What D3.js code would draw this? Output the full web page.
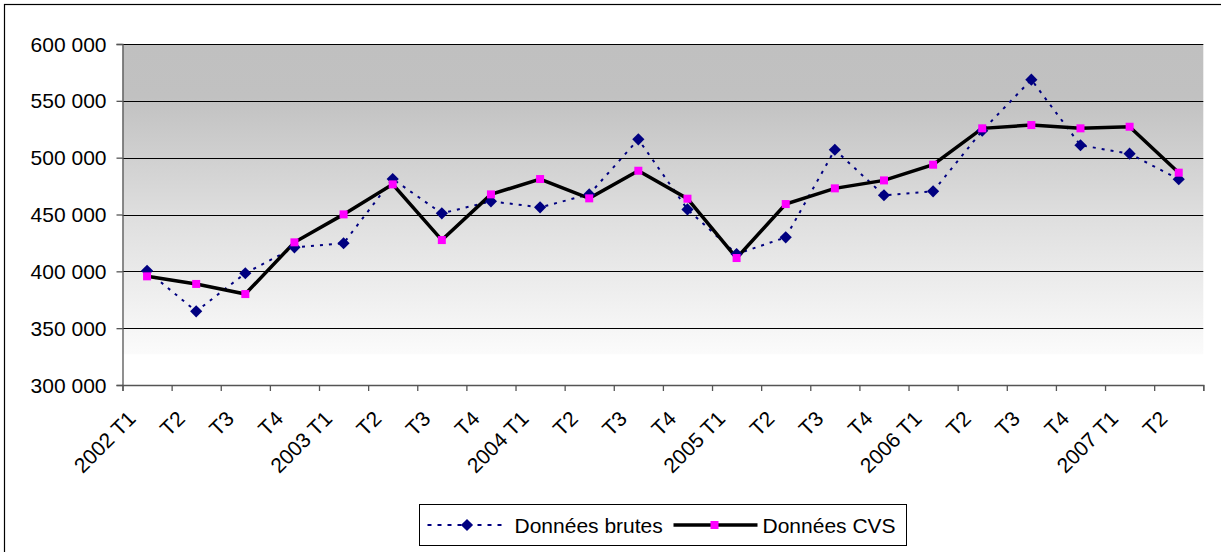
<!DOCTYPE html>
<html>
<head>
<meta charset="utf-8">
<script src="https://cdn.jsdelivr.net/npm/d3@7"></script>
<style>
  body { margin: 0; background: #fff; }
  svg { display: block; font-family: "Liberation Sans", Arial, sans-serif; }
</style>
</head>
<body>
<svg id="chart" width="1221" height="552"></svg>
<script>
// quarters (labels on the x axis)
let categories = ["2002 T1", "T2", "T3", "T4", "2003 T1", "T2", "T3", "T4",
    "2004 T1", "T2", "T3", "T4", "2005 T1", "T2", "T3", "T4",
    "2006 T1", "T2", "T3", "T4", "2007 T1", "T2"];

// raw series
let brutes = [400500, 364800, 398300, 421100, 424700, 481200, 451000, 461600,
    456300, 467700, 516100, 454500, 415200, 429900, 507000, 466900,
    470400, 523700, 568600, 510900, 503500, 481000];

// seasonally adjusted series
let cvs = [395600, 388900, 380000, 425500, 450100, 476500, 427500, 467700,
    481200, 464200, 488500, 463900, 411700, 459200, 473000, 480000,
    493800, 525800, 528700, 525800, 527200, 486800];

let yTicks = [300000, 350000, 400000, 450000, 500000, 550000, 600000];
let seriesNames = ["Données brutes", "Données CVS"];

let svg = d3.select("#chart");
let pad = { left: 122.5, top: 44, right: 1203.3, bottom: 385 };

/* frame round the whole chart */
svg.append("rect")
    .attr("x", 4.5).attr("y", 4.5)
    .attr("width", 1230).attr("height", 560)
    .attr("fill", "#fff").attr("stroke", "#000").attr("stroke-width", 1.2);

let xBand = d3.scaleBand()
    .domain(categories.map((c, i) => i))
    .range([pad.left, pad.right]);
let xEdge = d3.scaleLinear()
    .domain([0, categories.length])
    .range([pad.left, pad.right]);
let y = d3.scaleLinear()
    .domain([300000, 600000])
    .range([pad.bottom, pad.top]);

/* plot background: grey gradient */
let grad = svg.append("defs").append("linearGradient")
    .attr("id", "bg").attr("x1", 0).attr("y1", 0).attr("x2", 0).attr("y2", 1);
grad.append("stop").attr("offset", "0").attr("stop-color", "#c0c0c0");
grad.append("stop").attr("offset", "0.17").attr("stop-color", "#c1c1c1");
grad.append("stop").attr("offset", "0.55").attr("stop-color", "#dedede");
grad.append("stop").attr("offset", "1").attr("stop-color", "#fbfbfb");

svg.append("rect")
    .attr("x", pad.left).attr("y", pad.top)
    .attr("width", pad.right - pad.left)
    .attr("height", y(327000) - pad.top)
    .attr("fill", "url(#bg)");

/* horizontal gridlines */
svg.append("g").selectAll("line")
    .data(yTicks.slice(1))
    .join("line")
    .attr("x1", pad.left).attr("x2", pad.right)
    .attr("y1", d => Math.round(y(d)) + 0.5).attr("y2", d => Math.round(y(d)) + 0.5)
    .attr("stroke", "#000").attr("stroke-width", 1);

/* y axis */
let yAxis = svg.append("g")
    .attr("transform", "translate(" + pad.left + ",0)")
    .call(d3.axisLeft(y).tickValues(yTicks).tickSize(6).tickPadding(10)
        .tickFormat(d => d3.format(",")(d).replace(/,/g, " ")));
yAxis.select(".domain").attr("stroke", "#555").attr("stroke-width", 1.3);
yAxis.selectAll(".tick line").attr("stroke", "#555").attr("stroke-width", 1.3);
yAxis.selectAll(".tick text")
    .attr("font-size", 21).attr("fill", "#000")
    .attr("font-family", "Liberation Sans, Arial, sans-serif")
    .attr("dy", "0.34em");

/* x axis: ticks between the quarters */
let xTickAxis = svg.append("g")
    .attr("transform", "translate(0," + pad.bottom + ")")
    .call(d3.axisBottom(xEdge).tickValues(d3.range(categories.length + 1))
        .tickSize(6).tickFormat(""));
xTickAxis.select(".domain").attr("stroke", "#555").attr("stroke-width", 1.3);
xTickAxis.selectAll(".tick line").attr("stroke", "#555").attr("stroke-width", 1.3);

/* x labels rotated */
let xLabelAxis = svg.append("g")
    .attr("transform", "translate(0," + pad.bottom + ")")
    .call(d3.axisBottom(xBand).tickSize(0).tickFormat(i => categories[i]));
xLabelAxis.select(".domain").remove();
xLabelAxis.selectAll(".tick text")
    .attr("font-size", 21).attr("fill", "#000")
    .attr("font-family", "Liberation Sans, Arial, sans-serif")
    .attr("text-anchor", "end")
    .attr("y", 0).attr("dy", 0)
    .attr("transform", "translate(-10,35) rotate(-45)");

/* series: raw data (dotted navy, diamonds) */
let line = d3.line()
    .x((d, i) => xBand(i) + xBand.bandwidth() / 2)
    .y(d => y(d));

svg.append("path")
    .datum(brutes)
    .attr("d", line)
    .attr("fill", "none")
    .attr("stroke", "#000080")
    .attr("stroke-width", 2)
    .attr("stroke-dasharray", "3,6");

/* series: CVS (thick black) */
svg.append("path")
    .datum(cvs)
    .attr("d", line)
    .attr("fill", "none")
    .attr("stroke", "#000")
    .attr("stroke-width", 3.5)
    .attr("stroke-linejoin", "miter");

let diamond = d3.symbol().type(d3.symbolSquare).size(74);

svg.append("g").selectAll("path")
    .data(brutes)
    .join("path")
    .attr("d", diamond)
    .attr("transform", (d, i) => "translate(" + (xBand(i) + xBand.bandwidth() / 2) + "," + y(d) + ") rotate(45)")
    .attr("fill", "#000080");

svg.append("g").selectAll("rect")
    .data(cvs)
    .join("rect")
    .attr("x", (d, i) => xBand(i) + xBand.bandwidth() / 2 - 4)
    .attr("y", d => y(d) - 4)
    .attr("width", 8).attr("height", 8)
    .attr("fill", "#ff00ff");

/* legend */
let legend = svg.append("g").attr("transform", "translate(419.5,504.5)");
legend.append("rect")
    .attr("width", 487).attr("height", 41)
    .attr("fill", "#fff").attr("stroke", "#000").attr("stroke-width", 1);

let legendY = 20.5;
// raw
legend.append("line")
    .attr("x1", 8).attr("x2", 84).attr("y1", legendY).attr("y2", legendY)
    .attr("stroke", "#000080").attr("stroke-width", 2).attr("stroke-dasharray", "4,6");
legend.append("path")
    .attr("d", diamond)
    .attr("transform", "translate(47.5," + legendY + ") rotate(45)")
    .attr("fill", "#000080");
legend.append("text")
    .attr("x", 95).attr("y", legendY + 7.5)
    .attr("font-size", 21)
    .text(seriesNames[0]);
// cvs
legend.append("line")
    .attr("x1", 254).attr("x2", 338).attr("y1", legendY).attr("y2", legendY)
    .attr("stroke", "#000").attr("stroke-width", 3.5);
legend.append("rect")
    .attr("x", 291).attr("y", legendY - 4).attr("width", 8).attr("height", 8)
    .attr("fill", "#ff00ff");
legend.append("text")
    .attr("x", 343).attr("y", legendY + 7.5)
    .attr("font-size", 21)
    .text(seriesNames[1]);
</script>
</body>
</html>
